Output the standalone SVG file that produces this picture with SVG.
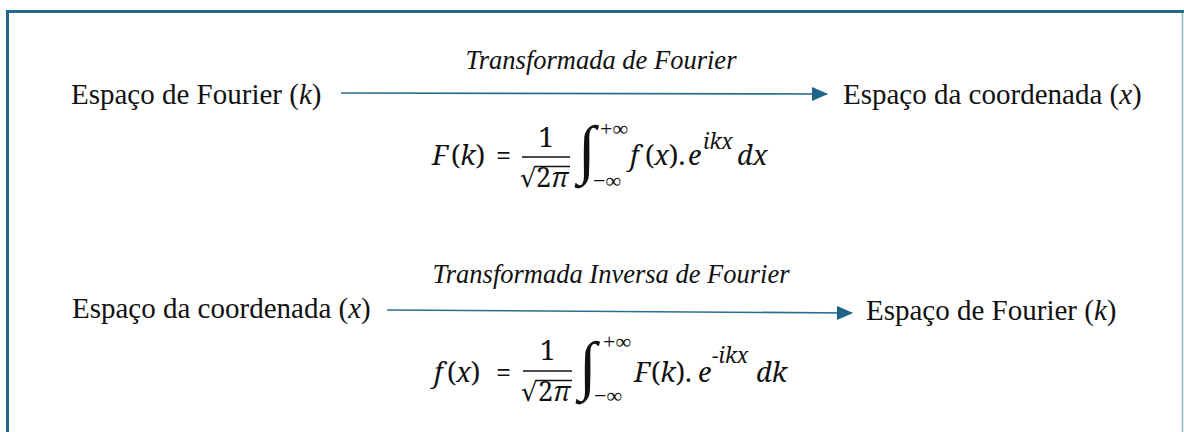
<svg xmlns="http://www.w3.org/2000/svg" width="1184" height="432" viewBox="0 0 1184 432">
<style>
.conn{stroke:#2b6d8e;stroke-width:1.6;fill:none}
.bar{stroke:#111;stroke-width:1.6}
</style>
<defs>
<marker id="ah" markerUnits="userSpaceOnUse" markerWidth="16" markerHeight="14" refX="15" refY="7" orient="auto">
<path d="M0,0 L16,7 L0,14 Z" fill="#1f6389"/>
</marker>
</defs>
<rect x="0" y="0" width="1184" height="432" fill="#fff"/>
<g id="frame">
<path d="M7.5,432 V11.5 H1184" fill="none" stroke="#22698a" stroke-width="3"/>
<line x1="1182.5" y1="13" x2="1182.5" y2="432" stroke="#8fb2c2" stroke-width="1.5"/>
</g>
<g id="connectors">
<line class="conn" x1="341" y1="93" x2="827" y2="94" marker-end="url(#ah)"/>
<line class="conn" x1="387" y1="310" x2="852" y2="313" marker-end="url(#ah)"/>
<text font-family="Liberation Serif, serif" font-size="26.5" font-style="italic" fill="#111" x="601" y="69" text-anchor="middle">Transformada de Fourier</text>
<text font-family="Liberation Serif, serif" font-size="26.5" font-style="italic" fill="#111" x="611" y="283" text-anchor="middle">Transformada Inversa de Fourier</text>
</g>
<g font-family="Liberation Serif, serif" font-size="29" fill="#111">
<g id="node-fourier-1"><text x="71" y="104">Espaço de Fourier (<tspan font-style="italic">k</tspan>)</text></g>
<g id="node-coord-1"><text x="843" y="104">Espaço da coordenada (<tspan font-style="italic">x</tspan>)</text></g>
<g id="node-coord-2"><text x="72" y="318">Espaço da coordenada (<tspan font-style="italic">x</tspan>)</text></g>
<g id="node-fourier-2"><text x="866" y="320">Espaço de Fourier (<tspan font-style="italic">k</tspan>)</text></g>
</g>
<g id="formula-1" font-family="Noto Serif, serif" font-size="27" fill="#111">
<text x="432" y="165" font-style="italic">F</text>
<text x="451" y="165">(<tspan font-style="italic">k</tspan>)</text>
<text x="503.5" y="165" text-anchor="middle">=</text>
<text x="546" y="147" text-anchor="middle">1</text>
<line class="bar" x1="522" y1="157" x2="570" y2="157"/>
<text x="520" y="187" font-family="DejaVu Serif, serif" font-size="26">√</text>
<line class="bar" x1="535" y1="166.5" x2="570" y2="166.5"/>
<text x="536" y="187">2<tspan font-style="italic">π</tspan></text>
<text x="578" y="171" font-family="Liberation Serif, serif" font-size="65">∫</text>
<text x="600" y="136" font-family="Liberation Serif, serif" font-size="22">+∞</text>
<text x="593" y="188" font-family="Liberation Serif, serif" font-size="22">−∞</text>
<text x="630" y="165" font-style="italic">f</text>
<text x="645" y="165">(<tspan font-style="italic">x</tspan>).</text>
<text x="688" y="165" font-style="italic">e</text>
<text x="703" y="149" font-style="italic" font-size="21">ikx</text>
<text x="737" y="165" font-style="italic">dx</text>
</g>
<g id="formula-2" font-family="Noto Serif, serif" font-size="27" fill="#111">
<text x="434" y="382" font-style="italic">f</text>
<text x="447" y="382">(<tspan font-style="italic">x</tspan>)</text>
<text x="503.5" y="382" text-anchor="middle">=</text>
<text x="547.5" y="360" text-anchor="middle">1</text>
<line class="bar" x1="523" y1="371" x2="572" y2="371"/>
<text x="521" y="401" font-family="DejaVu Serif, serif" font-size="26">√</text>
<line class="bar" x1="536" y1="380.5" x2="572" y2="380.5"/>
<text x="538" y="401">2<tspan font-style="italic">π</tspan></text>
<text x="579" y="387" font-family="Liberation Serif, serif" font-size="65">∫</text>
<text x="603" y="349" font-family="Liberation Serif, serif" font-size="22">+∞</text>
<text x="594" y="403" font-family="Liberation Serif, serif" font-size="22">−∞</text>
<text x="634" y="382" font-style="italic">F</text>
<text x="651" y="382">(<tspan font-style="italic">k</tspan>).</text>
<text x="698" y="382" font-style="italic">e</text>
<text x="712" y="363" font-style="italic" font-size="21">−ikx</text>
<text x="756" y="382" font-style="italic">dk</text>
</g>
</svg>
